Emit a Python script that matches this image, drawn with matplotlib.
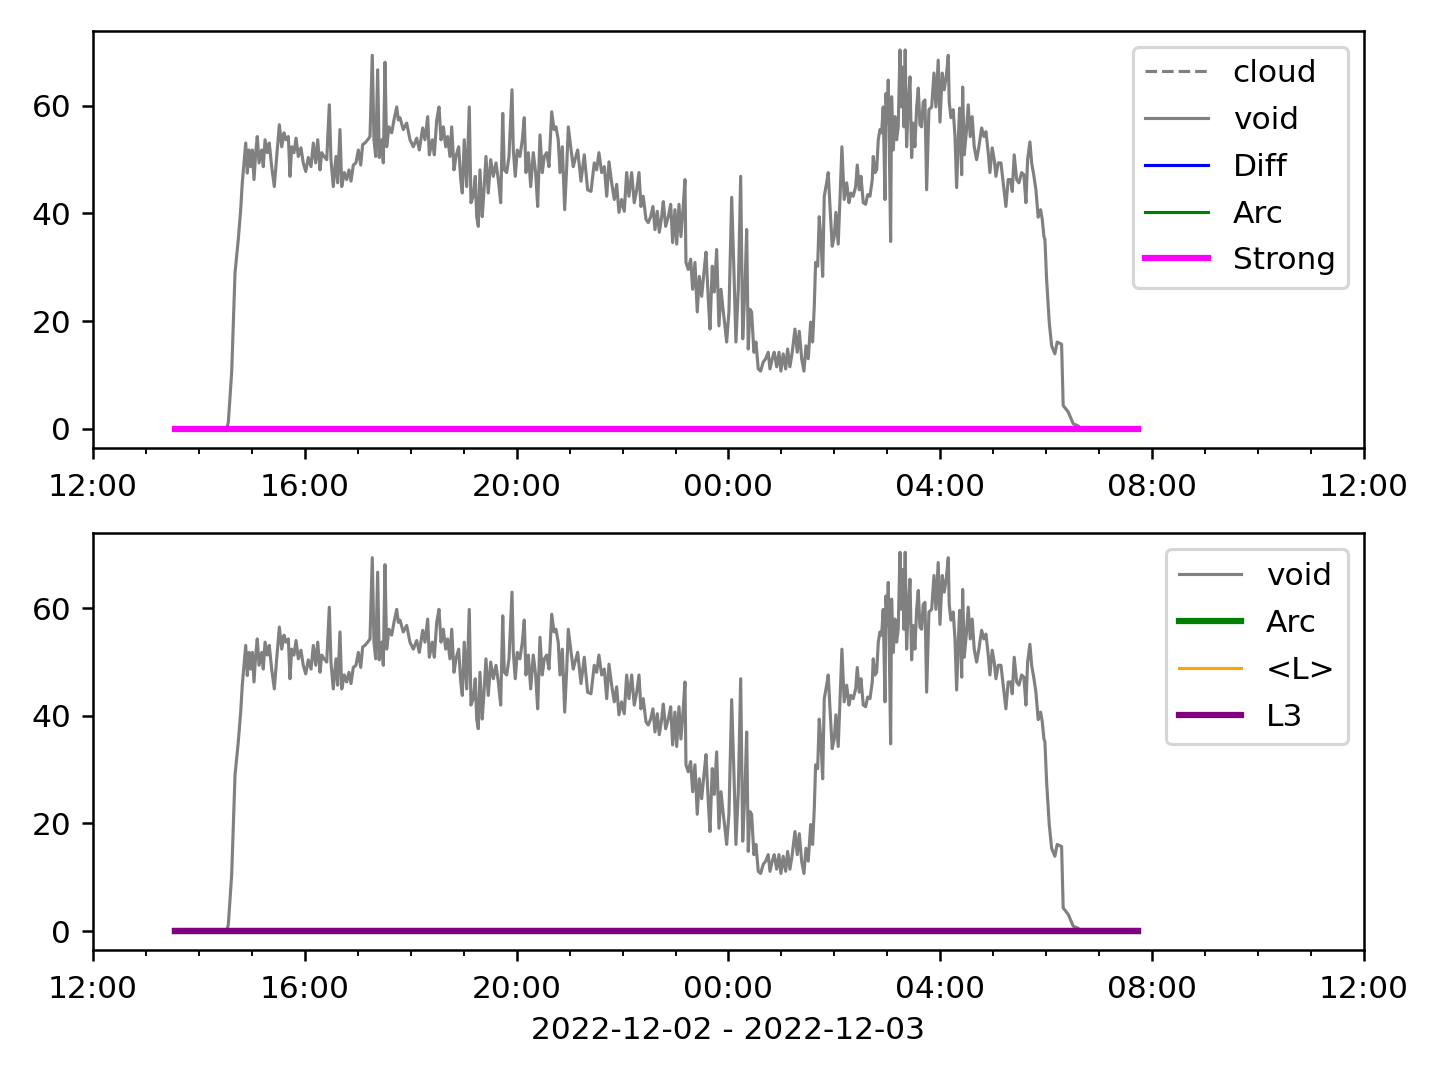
import matplotlib
matplotlib.use("Agg")
import matplotlib.pyplot as plt
import matplotlib.dates as mdates
import numpy as np
import pandas as pd

# minutes after 2022-12-02 12:00
minutes = [
    92.9, 151.5, 153.3, 157.1, 160.9, 164.6, 167.3, 169.1, 173.0, 174.8,
    176.7, 178.7, 180.5, 182.4, 184.3, 186.1, 188.1, 191.1, 192.9, 194.9,
    197.5, 199.7, 202.4, 205.4, 208.1, 211.1, 213.8, 216.4, 218.6, 221.3,
    223.2, 225.1, 227.7, 230.0, 232.6, 235.6, 238.2, 241.0, 243.9, 247.0,
    249.6, 252.3, 254.6, 257.2, 259.1, 261.7, 264.8, 267.7, 269.6, 272.2,
    275.3, 277.2, 279.8, 281.8, 284.7, 287.4, 290.0, 292.3, 294.9, 297.9,
    300.6, 303.3, 305.5, 308.1, 311.2, 313.8, 316.4, 318.3, 320.3, 322.5,
    324.3, 327.1, 328.9, 330.8, 332.7, 335.3, 338.4, 341.0, 344.1, 345.9,
    347.8, 351.5, 355.4, 359.1, 362.9, 366.7, 369.7, 373.5, 376.1, 379.2,
    381.0, 384.4, 386.7, 389.4, 392.0, 394.3, 396.9, 399.6, 401.8, 404.4,
    406.4, 409.0, 411.2, 414.3, 416.6, 418.4, 420.6, 423.4, 426.3, 428.2,
    430.8, 433.1, 434.7, 436.5, 438.4, 441.0, 443.0, 445.2, 447.8, 450.6,
    453.5, 456.6, 459.2, 461.9, 464.2, 466.0, 468.7, 471.3, 474.7, 476.2,
    478.4, 480.7, 483.7, 486.4, 488.6, 490.5, 493.2, 495.9, 498.8, 501.5,
    503.8, 506.4, 509.0, 511.3, 514.0, 516.6, 519.7, 522.3, 524.5, 527.1,
    529.1, 531.7, 534.4, 536.7, 538.5, 541.2, 544.1, 546.1, 549.1, 552.9,
    556.6, 560.4, 564.2, 567.9, 570.6, 573.2, 576.3, 579.3, 582.0, 584.6,
    587.6, 590.6, 593.3, 595.9, 598.9, 601.9, 604.6, 607.2, 610.3, 613.2,
    616.0, 618.6, 620.8, 623.4, 626.5, 629.1, 631.8, 634.4, 636.7, 639.3,
    641.6, 644.3, 646.1, 648.8, 651.8, 654.5, 656.7, 659.3, 661.3, 663.9,
    666.1, 668.7, 670.7, 671.8, 674.4, 677.1, 679.4, 682.0, 684.6, 686.9,
    689.6, 692.2, 694.5, 697.1, 699.0, 701.6, 703.9, 706.6, 709.2, 711.5,
    714.1, 716.0, 717.9, 720.5, 723.6, 726.2, 728.4, 731.1, 733.8, 736.1,
    738.6, 740.6, 742.4, 744.3, 746.2, 748.8, 751.1, 753.7, 756.4, 759.4,
    762.1, 765.0, 767.0, 769.6, 771.8, 774.6, 777.2, 779.4, 782.0, 784.8,
    787.0, 789.6, 792.2, 795.3, 797.9, 800.2, 802.9, 805.5, 807.8, 810.4,
    813.1, 815.3, 817.2, 818.7, 821.0, 822.8, 824.8, 826.7, 828.5, 831.2,
    833.0, 835.0, 837.5, 839.8, 841.7, 844.3, 846.3, 848.5, 851.1, 853.9,
    856.5, 858.7, 861.3, 864.1, 865.9, 868.2, 870.1, 872.7, 875.4, 877.7,
    880.3, 882.9, 884.0, 885.9, 887.9, 889.7, 891.6, 893.5, 895.3, 897.3,
    898.4, 899.9, 901.0, 902.1, 903.7, 904.8, 906.7, 908.6, 910.5, 912.3,
    914.3, 916.2, 917.3, 918.8, 920.2, 921.8, 923.6, 925.6, 927.5, 929.3,
    931.2, 933.2, 935.0, 936.9, 938.8, 940.6, 942.6, 944.5, 947.1, 950.2,
    952.8, 955.0, 957.6, 959.6, 962.2, 964.4, 966.7, 969.0, 970.1, 972.0,
    974.6, 976.6, 978.5, 980.3, 981.9, 984.2, 985.3, 987.1, 989.4, 991.6,
    993.9, 996.1, 998.4, 1001.1, 1003.7, 1006.8, 1009.4, 1011.7, 1014.3, 1016.2,
    1018.8, 1021.1, 1023.0, 1025.6, 1028.7, 1031.3, 1034.3, 1036.9, 1039.7, 1041.5,
    1043.7, 1046.5, 1049.1, 1052.1, 1054.7, 1057.0, 1058.9, 1061.5, 1063.5, 1066.1,
    1068.3, 1070.9, 1073.6, 1075.5, 1077.4, 1078.5, 1080.4, 1083.4, 1086.1, 1089.8,
    1092.4, 1097.4, 1099.2, 1104.9, 1110.6, 1116.3, 1119.3, 1183.9,
]

void = [
    0, 0, 1.2, 10.5, 29, 35.2, 40.7, 45.7, 53.1, 47.5,
    51.8, 48.7, 51.8, 46.3, 51.3, 54.3, 49.4, 51.8, 48.7, 53.7,
    51.3, 53.1, 48.7, 45, 50.6, 56.5, 52.4, 55, 53.7, 54.3,
    46.9, 52.4, 51.3, 54, 50.6, 52.2, 49.4, 47.8, 50.4, 48.7,
    53.1, 49.4, 53.7, 48.1, 51.3, 50.6, 50, 60.2, 50, 45,
    50.6, 45.7, 55.6, 45, 47.6, 46.3, 48.1, 46, 49, 49.4,
    51.8, 49, 52.8, 53.1, 53.7, 54.3, 69.4, 53.7, 50.6, 66.7,
    50.4, 53.7, 49.4, 68.1, 52.4, 56.1, 55, 57.4, 59.8, 57.4,
    57.8, 55.6, 56.8, 53.7, 52.4, 54, 51.8, 55.9, 53.7, 58,
    50.9, 53.7, 50.9, 57.4, 59.8, 53.7, 56.1, 52.4, 54.3, 50.6,
    56.1, 48.1, 50.6, 52.4, 46.3, 43.8, 53.7, 45, 59.8, 42,
    43.2, 46.9, 39.4, 37.6, 48.1, 39.4, 44.4, 50.6, 43.8, 50,
    46.9, 49.4, 46.3, 42, 58.6, 48.1, 47.6, 50.6, 63, 51.8,
    46.9, 51.8, 50.6, 53.7, 57.8, 47.6, 51.3, 45, 51.3, 47.6,
    41.3, 54.6, 47.6, 50.6, 51.3, 48.7, 58.9, 55.6, 56.1, 53.7,
    47.6, 52.4, 40.7, 48.7, 56.1, 52.4, 48.7, 50, 51.8, 46,
    50.9, 44.4, 44.1, 49.4, 48.1, 51.3, 47.6, 48.7, 43.2, 49.6,
    45.7, 42.6, 45.4, 40.2, 42.6, 40.4, 47.6, 43.2, 47.6, 42,
    44.4, 47.6, 41.3, 43.2, 38.9, 38.3, 39.4, 41.3, 37, 40.4,
    36.5, 39.4, 42.2, 37.6, 39.4, 41.7, 34.6, 40.7, 34.3, 41.7,
    35.7, 41.3, 46.3, 30.9, 29.6, 31.5, 25.9, 30.9, 21.7, 28.3,
    24.6, 29.1, 32.8, 24.1, 18.5, 30.2, 25.4, 33.3, 19.1, 25.9,
    21.7, 19.1, 16.1, 21.7, 43, 29.1, 16.1, 25.9, 46.9, 16.7,
    25.9, 37, 14.8, 22.2, 21.7, 14.2, 16.1, 11.1, 10.7, 12.4,
    13, 14.2, 11.1, 13, 14.2, 11.5, 14.2, 10.7, 13.9, 11.1,
    14.8, 11.5, 14.2, 18.5, 14.2, 18.1, 13, 10.7, 15.4, 13,
    19.8, 16.1, 22.8, 30.9, 30.2, 39.4, 35.2, 28.3, 43.2, 45.7,
    47.6, 41.3, 33.9, 35.7, 40.2, 34.3, 42.6, 52.4, 42.6, 45.7,
    42, 43.8, 43.2, 45, 49, 44.4, 46.9, 42, 41.7, 43.5,
    43.2, 46.3, 50.6, 47.6, 48.1, 53.7, 55.6, 55, 59.8, 42.6,
    62.3, 56.8, 64.8, 53.7, 34.8, 61.7, 51.8, 58, 53.7, 56.1,
    70.4, 59.8, 67.2, 56.1, 70.4, 52.4, 59.8, 65.4, 50.4, 56.8,
    52.4, 59.8, 63.3, 56.5, 56.1, 60.7, 61.1, 44.4, 59.3, 59.8,
    66.1, 59.8, 68.5, 57, 66.1, 63, 65.4, 69.4, 60.7, 57.8,
    59.3, 54.3, 44.8, 53.7, 59.6, 47.2, 63.5, 50.9, 55, 60.2,
    54.3, 58, 52.4, 50, 52.4, 55.9, 54.3, 55.2, 51.3, 47.6,
    52.2, 50, 46.9, 49.4, 49.4, 45.7, 41.3, 46.3, 46.3, 44.1,
    50.9, 46.3, 45.7, 47.6, 47.2, 42, 50, 53.3, 49.4, 46.9,
    44.4, 39.3, 40.7, 38.9, 35.7, 35.2, 27.8, 19.8, 15.4, 13.9,
    16.1, 15.7, 4.3, 3.1, 0.9, 0.5, 0, 0,
]

n = len(void)
cloud = [0.0] * n
diff = [0.0] * n
arc = [0.0] * n
strong = [0.0] * n
l_mean = [0.0] * n
l3 = [0.0] * n

start = pd.Timestamp("2022-12-02 12:00")
t = start + pd.to_timedelta(np.array(minutes), unit="m")
xlim = (start, start + pd.Timedelta(hours=24))

fig, (ax1, ax2) = plt.subplots(2, 1, figsize=(6.4, 4.8), dpi=225)
fig.subplots_adjust(left=0.0646, right=0.9472, top=0.9713, bottom=0.1204, hspace=0.206)

ax1.plot(t, cloud, color="gray", ls="--", lw=1, label="cloud")
ax1.plot(t, void, color="gray", lw=1, label="void")
ax1.plot(t, diff, color="blue", lw=1, label="Diff")
ax1.plot(t, arc, color="green", lw=1, label="Arc")
ax1.plot(t, strong, color="magenta", lw=2, label="Strong")
ax1.legend(loc="upper right", labelspacing=0.57)

ax2.plot(t, void, color="gray", lw=1, label="void")
ax2.plot(t, arc, color="green", lw=2, label="Arc")
ax2.plot(t, l_mean, color="orange", lw=1, label="<L>")
ax2.plot(t, l3, color="purple", lw=2, label="L3")
ax2.legend(loc="upper right", labelspacing=0.58)

for ax in (ax1, ax2):
    ax.set_xlim(*xlim)
    ax.xaxis.set_major_locator(mdates.HourLocator(byhour=[0, 4, 8, 12, 16, 20]))
    ax.xaxis.set_minor_locator(mdates.HourLocator())
    ax.xaxis.set_major_formatter(mdates.DateFormatter("%H:%M"))
    ax.tick_params(axis="x", which="major", pad=4.5)

ax2.set_xlabel("2022-12-02 - 2022-12-03")
fig.savefig("out.png", dpi=225)
